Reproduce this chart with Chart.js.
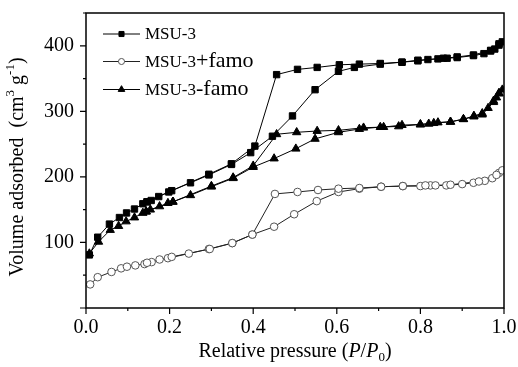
<!DOCTYPE html>
<html><head><meta charset="utf-8">
<script src="https://cdn.jsdelivr.net/npm/chart.js@4.4.0/dist/chart.umd.min.js"></script>
<style>body{margin:0;background:#fff}canvas{display:block}</style>
</head><body>
<canvas id="c" width="518" height="367"></canvas>
<script>
// ---- data ----
const seriesNames = ['MSU-3', 'MSU-3+famo', 'MSU-3-famo'];

// MSU-3 : adsorption branch then desorption branch
const msu3X = [0.008,0.028,0.056,0.080,0.097,0.116,0.136,0.146,0.156,0.174,0.198,0.250,0.294,0.348,0.394,0.446,0.494,0.548,0.604,0.642,0.704,0.756,0.794,0.818,0.855,0.864,0.888,0.927,0.952,0.968,0.978,0.988,0.996,
               0.988,0.968,0.927,0.888,0.842,0.794,0.756,0.704,0.654,0.606,0.553,0.506,0.456,0.404,0.348,0.294,0.205,0.146];
const msu3Y = [81,108,128,138,145,151,159,162,164,170,177,191,203,219,237,262,293,333,361,367,372,375,377,379,381,381,382,385,388,392,395,401,406,
               403,393,386,383,380,378,375,373,372,371,367,364,356,247,220,204,179,162];

// MSU-3+famo
const famoPlusX = [0.010,0.028,0.061,0.084,0.098,0.118,0.140,0.157,0.176,0.196,0.246,0.294,0.350,0.398,0.450,0.498,0.552,0.604,0.654,0.706,0.758,0.800,0.824,0.862,0.900,0.927,0.954,0.972,0.988,0.996,
                   0.982,0.940,0.872,0.836,0.812,0.758,0.706,0.654,0.604,0.555,0.506,0.452,0.398,0.350,0.296,0.205,0.146];
const famoPlusY = [36,47,55,60.5,63,65,67,70,74,76,83,90,99,112,124,143,163,177,182,185,186,186,187,187,189,191,194,198,206,210,
                   203,193,188,187,187,186,185,183,182,180,177,174,112,99,90,78,69];

// MSU-3-famo
const famoMinusX = [0.008,0.030,0.058,0.078,0.096,0.116,0.136,0.144,0.154,0.176,0.196,0.208,0.250,0.300,0.352,0.400,0.450,0.502,0.548,0.604,0.654,0.704,0.748,0.800,0.832,0.872,0.903,0.928,0.948,0.962,0.975,0.982,0.988,0.996,
                    0.988,0.975,0.948,0.928,0.903,0.872,0.842,0.820,0.800,0.756,0.712,0.664,0.604,0.553,0.504,0.456,0.400,0.352,0.300,0.208,0.144];
const famoMinusY = [83,101,119,125,132,138,145,147,150,155,160,162,172,185,198,215,228,243,258,268,273,276,277,280,282,284,288,292,295,305,314,321,327,333,
                    328,316,297,293,288,284,283,281,280,279,276,275,271,270,268,265,217,199,186,162,147];

const xTickLabels = ['0.0','0.2','0.4','0.6','0.8','1.0'];
const yTickLabels = ['100','200','300','400'];
const xTitle = ['Relative pressure (', 'P', '/', 'P', '0', ')'];
const yTitle = ['Volume adsorbed  (cm', '3', ' g', '-1', ')'];

// ---- rendering ----
const FONT = "'Liberation Serif','Times New Roman',serif";
function pts(xs, ys) { return xs.map((x, i) => ({ x: x, y: ys[i] })); }

const styles = [
  { pointStyle: 'rect', radius: 4.5, fill: '#000', stroke: '#000', line: '#000' },
  { pointStyle: 'circle', radius: 3.8, fill: '#fff', stroke: '#555', line: '#222' },
  { pointStyle: 'triangle', radius: 4.8, fill: '#000', stroke: '#000', line: '#000' }
];
const seriesData = [pts(msu3X, msu3Y), pts(famoPlusX, famoPlusY), pts(famoMinusX, famoMinusY)];

function drawRich(ctx, segs, x, y, align) {
  let total = 0;
  segs.forEach(s => { ctx.font = s.font; s.w = ctx.measureText(s.t).width; total += s.w; });
  let cx = align === 'center' ? x - total / 2 : x;
  segs.forEach(s => { ctx.font = s.font; ctx.fillText(s.t, cx, y + (s.dy || 0)); cx += s.w; });
}

const decor = {
  id: 'decor',
  afterDraw(chart) {
    const ctx = chart.ctx, a = chart.chartArea, xs = chart.scales.x, ys = chart.scales.y;
    ctx.save();
    ctx.strokeStyle = '#000';
    ctx.lineWidth = 1.5;
    ctx.strokeRect(a.left, a.top, a.right - a.left, a.bottom - a.top);
    ctx.lineWidth = 1.2;
    ctx.beginPath();
    for (let i = 0; i <= 10; i++) {
      const px = xs.getPixelForValue(i / 10), len = i % 2 === 0 ? 6 : 3;
      ctx.moveTo(px, a.bottom); ctx.lineTo(px, a.bottom + len);
    }
    for (let i = 0; i <= 9; i++) {
      const py = ys.getPixelForValue(i * 50), len = i % 2 === 0 ? 6 : 3;
      ctx.moveTo(a.left - len, py); ctx.lineTo(a.left, py);
    }
    ctx.stroke();

    // legend
    const rows = [34, 61.5, 89.5];
    seriesNames.forEach((name, i) => {
      const st = styles[i], y = rows[i];
      ctx.strokeStyle = st.line; ctx.lineWidth = 1;
      ctx.beginPath(); ctx.moveTo(103, y); ctx.lineTo(140, y); ctx.stroke();
      ctx.fillStyle = st.fill; ctx.strokeStyle = st.stroke; ctx.lineWidth = 1;
      Chart.helpers.drawPoint(ctx, { pointStyle: st.pointStyle, radius: st.radius * 0.8, rotation: 0, borderWidth: 1 }, 121.5, y);
      ctx.fillStyle = '#000'; ctx.textBaseline = 'alphabetic'; ctx.textAlign = 'left';
      const base = name.slice(0, 5), rest = name.slice(5);
      const segs = [{ t: base, font: '17px ' + FONT }];
      if (rest) segs.push({ t: rest, font: '22px ' + FONT });
      drawRich(ctx, segs, 145, y + 5, 'left');
    });

    // x title
    ctx.fillStyle = '#000'; ctx.textAlign = 'left'; ctx.textBaseline = 'alphabetic';
    const xc = (a.left + a.right) / 2;
    drawRich(ctx, [
      { t: xTitle[0], font: '20px ' + FONT },
      { t: xTitle[1], font: 'italic 20px ' + FONT },
      { t: xTitle[2], font: '20px ' + FONT },
      { t: xTitle[3], font: 'italic 20px ' + FONT },
      { t: xTitle[4], font: '13px ' + FONT, dy: 4 },
      { t: xTitle[5], font: '20px ' + FONT }
    ], xc, 357, 'center');

    // y title
    ctx.save();
    ctx.translate(23, 167);
    ctx.rotate(-Math.PI / 2);
    drawRich(ctx, [
      { t: yTitle[0], font: '20px ' + FONT },
      { t: yTitle[1], font: '13px ' + FONT, dy: -9 },
      { t: yTitle[2], font: '20px ' + FONT },
      { t: yTitle[3], font: '13px ' + FONT, dy: -9 },
      { t: yTitle[4], font: '20px ' + FONT }
    ], 0, 0, 'center');
    ctx.restore();
    ctx.restore();
  }
};

new Chart(document.getElementById('c'), {
  type: 'scatter',
  data: {
    datasets: seriesNames.map((name, i) => ({
      label: name,
      data: seriesData[i],
      showLine: true,
      tension: 0,
      borderColor: styles[i].line,
      borderWidth: 1,
      pointStyle: styles[i].pointStyle,
      pointRadius: styles[i].radius,
      pointBackgroundColor: styles[i].fill,
      pointBorderColor: styles[i].stroke,
      pointBorderWidth: 1
    }))
  },
  options: {
    responsive: false,
    animation: false,
    devicePixelRatio: 1,
    layout: { padding: { top: 13, right: 14, left: 0, bottom: 0 } },
    plugins: { legend: { display: false }, tooltip: { enabled: false } },
    scales: {
      x: {
        type: 'linear', min: 0, max: 1,
        grid: { display: false, drawTicks: false },
        border: { display: false },
        ticks: {
          stepSize: 0.1, autoSkip: false, maxRotation: 0, padding: 8, color: '#000',
          font: { family: FONT, size: 20 },
          callback: (v, i) => (i % 2 === 0 ? xTickLabels[i / 2] : '')
        },
        afterFit(s) { s.height = 59; s.paddingLeft = 0; s.paddingRight = 0; }
      },
      y: {
        type: 'linear', min: 0, max: 450,
        grid: { display: false, drawTicks: false },
        border: { display: false },
        ticks: {
          stepSize: 50, autoSkip: false, padding: 12, color: '#000',
          font: { family: FONT, size: 20 },
          callback: (v) => (yTickLabels.includes(String(v)) ? String(v) : '')
        },
        afterFit(s) { s.width = 86; s.paddingTop = 0; s.paddingBottom = 0; }
      }
    }
  },
  plugins: [decor]
});
</script>
</body></html>
